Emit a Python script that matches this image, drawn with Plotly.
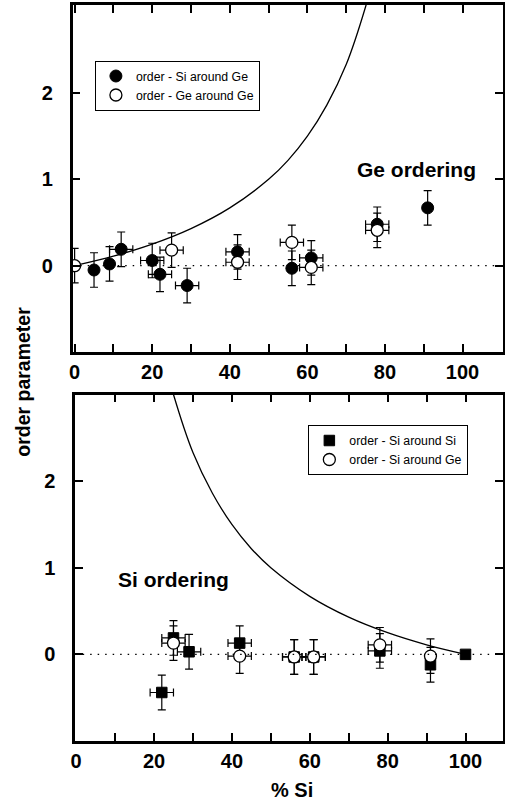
import plotly.graph_objects as go

FONT = "Liberation Sans, Arial, Helvetica, sans-serif"

# ---------------- data ----------------
# Top panel: Ge ordering
top_fill_x = [5, 9, 12, 20, 22, 29, 42, 56, 61, 78, 91]
top_fill_y = [-0.05, 0.02, 0.19, 0.06, -0.10, -0.23, 0.16, -0.03, 0.09, 0.48, 0.67]
top_fill_yerr = [0.2, 0.2, 0.2, 0.2, 0.2, 0.2, 0.2, 0.2, 0.2, 0.2, 0.2]
top_fill_xerr = [0, 0, 3, 3, 3, 3, 3, 0, 3, 3, 0]

top_open_x = [0, 25, 42, 56, 61, 78]
top_open_y = [0.0, 0.18, 0.04, 0.27, -0.02, 0.41]
top_open_yerr = [0.2, 0.2, 0.2, 0.2, 0.2, 0.2]
top_open_xerr = [0, 3, 3, 3, 3, 3]

top_curve_x = [0, 10, 20, 30, 40, 50, 55, 60, 65, 70, 75, 76]
top_curve_y = [0, 0.11, 0.25, 0.43, 0.67, 1.0, 1.22, 1.5, 1.86, 2.33, 3.0, 3.17]

# Bottom panel: Si ordering
bot_fill_x = [22, 25, 29, 42, 56, 61, 78, 91, 100]
bot_fill_y = [-0.44, 0.19, 0.03, 0.13, -0.03, -0.03, 0.04, -0.12, 0.0]
bot_fill_yerr = [0.2, 0.2, 0.2, 0.2, 0.2, 0.2, 0.2, 0.2, 0]
bot_fill_xerr = [3, 3, 3, 3, 3, 3, 3, 0, 0]

bot_open_x = [25, 42, 56, 61, 78, 91]
bot_open_y = [0.13, -0.02, -0.03, -0.03, 0.11, -0.02]
bot_open_yerr = [0.2, 0.2, 0.2, 0.2, 0.2, 0.2]
bot_open_xerr = [3, 3, 3, 3, 3, 0]

bot_curve_x = [24, 25, 30, 35, 40, 45, 50, 60, 70, 80, 90, 100]
bot_curve_y = [3.17, 3.0, 2.33, 1.86, 1.5, 1.22, 1.0, 0.67, 0.43, 0.25, 0.11, 0.0]

x_tickvals = [0, 10, 20, 30, 40, 50, 60, 70, 80, 90, 100]
x_ticktext = ["0", "", "20", "", "40", "", "60", "", "80", "", "100"]
y_tickvals = [0, 1, 2]
y_ticktext = ["0", "1", "2"]

# ---------------- figure ----------------
W, H = 505, 804
fig = go.Figure()


def err(arr):
    return dict(type="data", array=arr, visible=True, color="black",
                thickness=1.2, width=4)


# top curve
fig.add_trace(go.Scatter(x=top_curve_x, y=top_curve_y, mode="lines",
                         line=dict(color="black", width=1.3, shape="spline"),
                         showlegend=False, xaxis="x", yaxis="y", hoverinfo="skip"))
fig.add_trace(go.Scatter(x=top_fill_x, y=top_fill_y, mode="markers",
                         name="order - Si around Ge",
                         marker=dict(symbol="circle", size=12, color="black",
                                     line=dict(color="black", width=1)),
                         error_y=err(top_fill_yerr), error_x=err(top_fill_xerr),
                         xaxis="x", yaxis="y", legend="legend"))
fig.add_trace(go.Scatter(x=top_open_x, y=top_open_y, mode="markers",
                         name="order - Ge around Ge",
                         marker=dict(symbol="circle", size=12, color="white",
                                     line=dict(color="black", width=1.3)),
                         error_y=err(top_open_yerr), error_x=err(top_open_xerr),
                         xaxis="x", yaxis="y", legend="legend"))

# bottom curve
fig.add_trace(go.Scatter(x=bot_curve_x, y=bot_curve_y, mode="lines",
                         line=dict(color="black", width=1.3, shape="spline"),
                         showlegend=False, xaxis="x2", yaxis="y2", hoverinfo="skip"))
fig.add_trace(go.Scatter(x=bot_fill_x, y=bot_fill_y, mode="markers",
                         name="order - Si around Si",
                         marker=dict(symbol="square", size=10.5, color="black",
                                     line=dict(color="black", width=1)),
                         error_y=err(bot_fill_yerr), error_x=err(bot_fill_xerr),
                         xaxis="x2", yaxis="y2", legend="legend2"))
fig.add_trace(go.Scatter(x=bot_open_x, y=bot_open_y, mode="markers",
                         name="order - Si around Ge",
                         marker=dict(symbol="circle", size=12, color="white",
                                     line=dict(color="black", width=1.3)),
                         error_y=err(bot_open_yerr), error_x=err(bot_open_xerr),
                         xaxis="x2", yaxis="y2", legend="legend2"))

# dotted zero lines
fig.add_shape(type="line", xref="x domain", yref="y", x0=0, x1=1, y0=0, y1=0,
              line=dict(color="black", width=1.2, dash="1.5px,6px"), layer="below")
fig.add_shape(type="line", xref="x2 domain", yref="y2", x0=0, x1=1, y0=0, y1=0,
              line=dict(color="black", width=1.2, dash="1.5px,6px"), layer="above")

tickfont = dict(family=FONT, size=20, color="black", weight="bold")
common_axis = dict(showline=True, linewidth=2.5, linecolor="black", mirror="allticks",
                   ticks="inside", ticklen=8, tickwidth=2, tickcolor="black",
                   showgrid=False, zeroline=False, tickfont=tickfont)

fig.update_layout(
    width=W, height=H,
    margin=dict(l=0, r=0, t=0, b=0),
    paper_bgcolor="white", plot_bgcolor="white",
    xaxis=dict(domain=[68.5 / W, 503.5 / W], anchor="y", range=[-0.5, 110.3],
               tickvals=x_tickvals, ticktext=x_ticktext, ticklabelstandoff=0,
               **common_axis),
    yaxis=dict(domain=[1 - 352 / H, 1 - 5 / H], anchor="x", range=[-1, 3.02],
               tickvals=y_tickvals, ticktext=y_ticktext, ticklabelstandoff=13,
               **common_axis),
    xaxis2=dict(domain=[71 / W, 503.5 / W], anchor="y2", range=[-0.25, 109.5],
                tickvals=x_tickvals, ticktext=x_ticktext, ticklabelstandoff=0,
                **common_axis),
    yaxis2=dict(domain=[1 - 741 / H, 1 - 394.5 / H], anchor="x2", range=[-1, 3.0],
                tickvals=y_tickvals, ticktext=y_ticktext, ticklabelstandoff=13,
                **common_axis),
    legend=dict(x=91 / W, y=1 - 60.5 / H, xanchor="left", yanchor="top",
                bgcolor="white", bordercolor="black", borderwidth=1,
                font=dict(family=FONT, size=12.3, color="black"),
                tracegroupgap=0),
    legend2=dict(x=307 / W, y=1 - 425 / H, xanchor="left", yanchor="top",
                 bgcolor="white", bordercolor="black", borderwidth=1,
                 font=dict(family=FONT, size=12.3, color="black"),
                 tracegroupgap=0),
    annotations=[
        dict(text="Ge ordering", xref="x", yref="y", x=88, y=1.12, showarrow=False,
             font=dict(family=FONT, size=21, color="black", weight="bold")),
        dict(text="Si ordering", xref="x2", yref="y2", x=25, y=0.86, showarrow=False,
             font=dict(family=FONT, size=21, color="black", weight="bold")),
        dict(text="order parameter", xref="paper", yref="paper", x=18 / W,
             y=1 - 382 / H, xanchor="center", yanchor="middle", textangle=-90,
             showarrow=False,
             font=dict(family=FONT, size=19.5, color="black", weight="bold")),
        dict(text="% Si", xref="paper", yref="paper", x=290 / W, y=1 - 790 / H,
             xanchor="center", yanchor="middle", showarrow=False,
             font=dict(family=FONT, size=20, color="black", weight="bold")),
    ],
)

fig.write_html("out.html")
